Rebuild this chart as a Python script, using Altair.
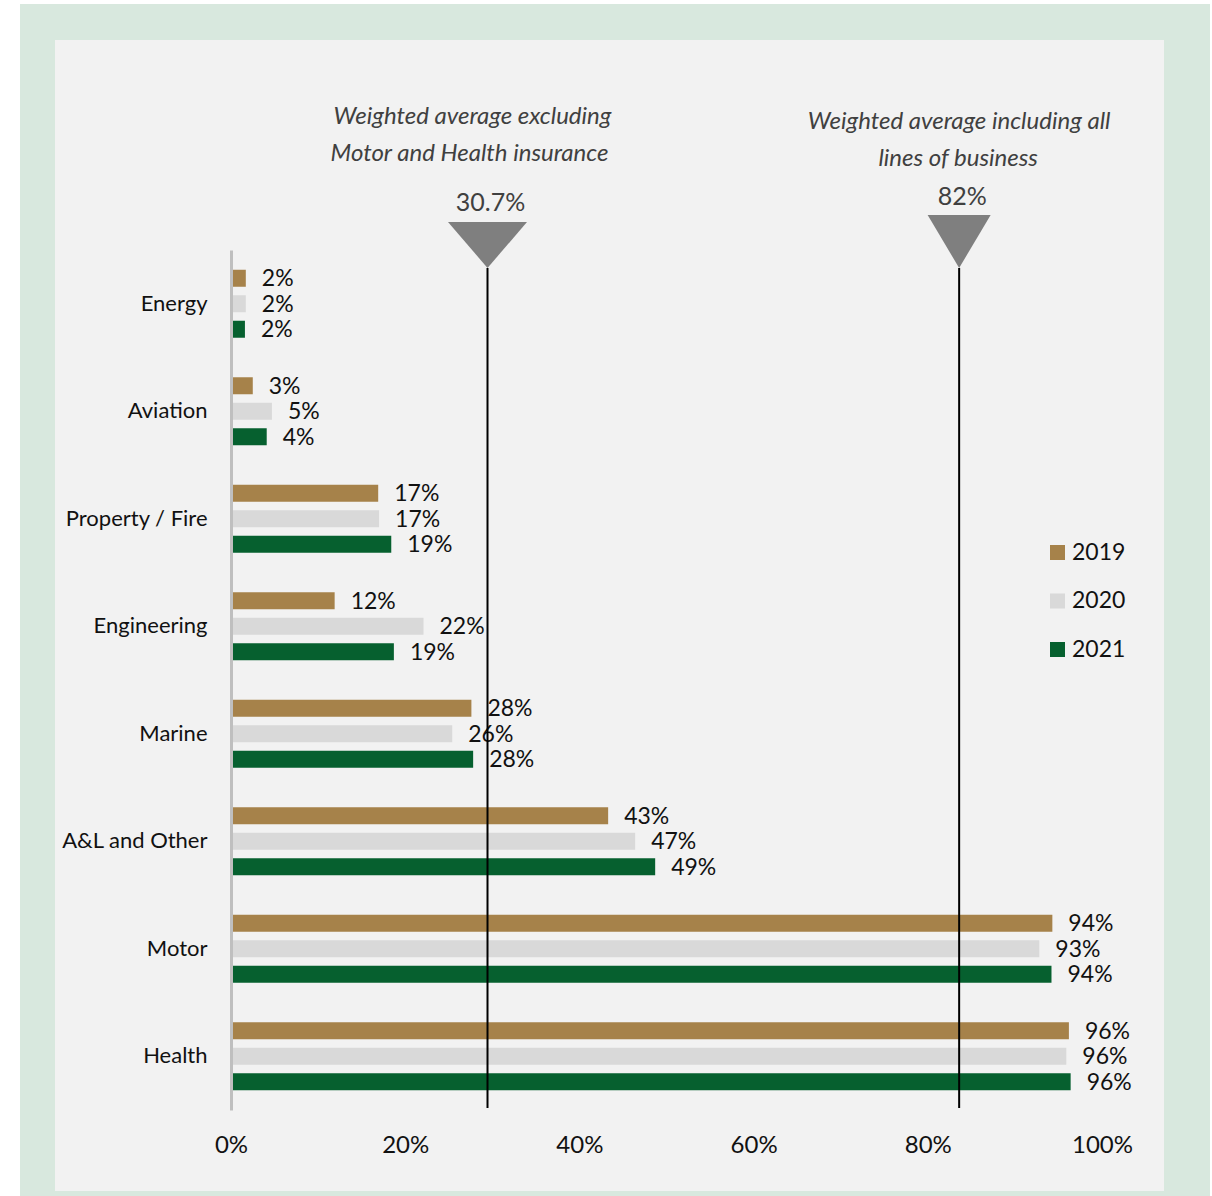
import altair as alt
import pandas as pd

categories = ["Energy", "Aviation", "Property / Fire", "Engineering", "Marine",
              "A&L and Other", "Motor", "Health"]
years = ["2019", "2020", "2021"]
v2019 = [1.7, 2.5, 16.9, 11.9, 27.6, 43.3, 94.3, 96.2]
v2020 = [1.7, 4.7, 17.0, 22.1, 25.4, 46.4, 92.8, 95.9]
v2021 = [1.6, 4.1, 18.4, 18.7, 27.8, 48.7, 94.2, 96.4]
l2019 = ["2%", "3%", "17%", "12%", "28%", "43%", "94%", "96%"]
l2020 = ["2%", "5%", "17%", "22%", "26%", "47%", "93%", "96%"]
l2021 = ["2%", "4%", "19%", "19%", "28%", "49%", "94%", "96%"]
colors = ["#a6824a", "#d9d9d9", "#06602f"]

marker_labels = ["30.7%", "82%"]
marker_pos = [29.45, 83.6]
marker_line1 = ["Weighted average excluding", "Weighted average including all"]
marker_line2 = ["Motor and Health insurance", "lines of business"]

rows = []
for i, c in enumerate(categories):
    for y, vals, labs in zip(years, [v2019, v2020, v2021], [l2019, l2020, l2021]):
        rows.append({"category": c, "year": y, "value": vals[i], "label": labs[i]})
df = pd.DataFrame(rows)

mdf = pd.DataFrame({"value": marker_pos, "label": marker_labels,
                    "t1": marker_line1, "t2": marker_line2})

FONT = "Lato"
TXT = "#111111"

x_enc = alt.X("value:Q", scale=alt.Scale(domain=[0, 100]),
              axis=alt.Axis(title=None, values=[0, 20, 40, 60, 80, 100],
                            labelExpr="datum.value + '%'", domain=False, ticks=False,
                            grid=False, labelPadding=35, labelBaseline="middle",
                            labelFlush=False, labelFontSize=24, labelColor=TXT,
                            labelFont=FONT, zindex=1))
y_enc = alt.Y("category:N", sort=categories,
              scale=alt.Scale(paddingInner=0, paddingOuter=0),
              axis=alt.Axis(title=None, domainColor="#bfbfbf", domainWidth=3, ticks=False,
                            labelPadding=24, labelFontSize=22, labelColor=TXT,
                            labelFont=FONT, grid=False, zindex=1))
yoff = alt.YOffset("year:N", sort=years,
                   scale=alt.Scale(paddingInner=0.333, paddingOuter=0.775))
color = alt.Color("year:N", sort=years,
                  scale=alt.Scale(domain=years, range=colors),
                  legend=alt.Legend(title=None, orient="none", legendX=815, legendY=291,
                                    symbolType="square", symbolSize=225,
                                    symbolStrokeWidth=0, symbolOpacity=1,
                                    labelFontSize=23, labelFont=FONT, labelColor=TXT,
                                    rowPadding=24.5, labelOffset=3))

one = pd.DataFrame({"k": [0]})
outer = alt.Chart(one).mark_rect(color="#d8e8de").encode(
    x=alt.value(-211), x2=alt.value(979), y=alt.value(-246), y2=alt.value(946))
inner = alt.Chart(one).mark_rect(color="#f2f2f2").encode(
    x=alt.value(-176), x2=alt.value(933), y=alt.value(-210), y2=alt.value(941))

bars = alt.Chart(df).mark_bar(yOffset=1).encode(x=x_enc, y=y_enc, yOffset=yoff, color=color)
labels = alt.Chart(df).mark_text(align="left", baseline="middle", dx=16, dy=1, fontSize=23,
                                 font=FONT, color=TXT).encode(
    x=x_enc, y=y_enc, yOffset=yoff, text="label:N")

rules = alt.Chart(mdf).mark_rule(color="black", strokeWidth=2).encode(
    x=x_enc, y=alt.value(18), y2=alt.value(858))

layers = [outer, inner, bars, labels, rules]

specs = [
    # (triangle path, size, tri_y, label_y, t1_y, t2_y, dx_t1, dx_t2)
    ("M-1,-0.58L1,-0.58L0,0.58Z", 6241, -5, -47, -133, -96, -15, -18),
    ("M-1,-0.84L1,-0.84L0,0.84Z", 3969, -8.5, -53, -128, -91, 0, -1),
]
for i, (path, size, ty, ly, t1y, t2y, dx1, dx2) in enumerate(specs):
    sub = alt.Chart(mdf.iloc[[i]])
    layers.append(sub.mark_point(shape=path, size=size, filled=True, fill="#7f7f7f",
                                 opacity=1, strokeWidth=0).encode(x=x_enc, y=alt.value(ty)))
    layers.append(sub.mark_text(fontSize=25, font=FONT, color="#404040",
                                baseline="middle", align="center", dx=3).encode(
        x=x_enc, y=alt.value(ly), text="label:N"))
    layers.append(sub.mark_text(fontSize=24, font=FONT, fontStyle="italic",
                                color="#404040", baseline="middle", align="center",
                                dx=dx1).encode(x=x_enc, y=alt.value(t1y), text="t1:N"))
    layers.append(sub.mark_text(fontSize=24, font=FONT, fontStyle="italic",
                                color="#404040", baseline="middle", align="center",
                                dx=dx2).encode(x=x_enc, y=alt.value(t2y), text="t2:N"))

chart = alt.layer(*layers).properties(
    width=871, height=860,
    autosize=alt.AutoSizeParams(type="none"),
    padding={"left": 231, "top": 250, "right": 110, "bottom": 86},
    background="white",
).configure_view(stroke=None)

chart.save("out.html", embed_options={"renderer": "svg", "actions": False})
